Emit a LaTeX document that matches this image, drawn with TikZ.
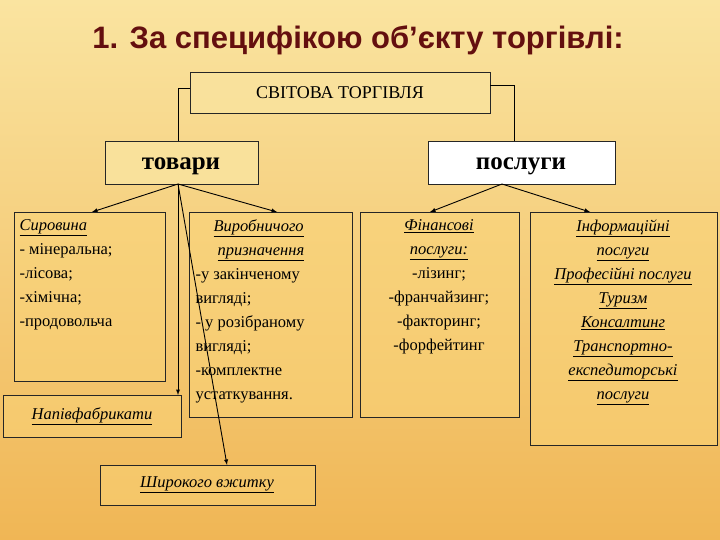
\documentclass[tikz,border=0pt]{standalone}
\usepackage{fontspec}
\setmainfont{Liberation Serif}
\newfontfamily\titlefont{Liberation Sans}
\definecolor{bgtop}{RGB}{250,228,160}
\definecolor{bgbot}{RGB}{240,182,85}
\definecolor{boxfill}{RGB}{250,212,120}
\definecolor{ttl}{RGB}{100,15,15}
\newcommand{\ul}[1]{\underline{\textit{#1}}}
\tikzset{
  bx/.style={draw=black!85, line width=0.6pt, fill=boxfill, fill opacity=0.5, text opacity=1},
  arr/.style={-latex, line width=0.9pt},
  ln/.style={line width=0.6pt},
  txt/.style={font=\fontsize{16.5}{24}\selectfont, align=#1},
}
\begin{document}
\begin{tikzpicture}[x=1pt,y=-1pt]
\shade[top color=bgtop, bottom color=bgbot] (0,0) rectangle (720,540);
\useasboundingbox (0,0) rectangle (720,540);
\node[font=\titlefont\bfseries\fontsize{31}{34}\selectfont, text=ttl] (title) at (358,40) {1. За специфікою об’єкту торгівлі:};
% boxes
\draw[bx, fill=bgtop, fill opacity=0.7] (190,72) rectangle (490,113);
\node (st) at (340,93) {\fontsize{18}{20}\selectfont СВІТОВА ТОРГІВЛЯ};
\draw[bx, fill=bgtop, fill opacity=0.8] (105,141) rectangle (258,184);
\node (tov) at (181,166) {\fontsize{25}{28}\selectfont\bfseries товари};
\draw[bx, fill=white, fill opacity=1] (428,141) rectangle (615,184);
\node (pos) at (521,166) {\fontsize{25}{28}\selectfont\bfseries послуги};
\draw[bx] (14,212) rectangle (165,381);
\node[txt=left, anchor=north west] (syr) at (16,216) {\ul{Сировина}\\- мінеральна;\\-лісова;\\-хімічна;\\-продовольча};
\draw[bx] (3,395) rectangle (181,437);
\node[txt=left] (nap) at (92,416) {\ul{Напівфабрикати}};
\draw[bx] (189,212) rectangle (352,417);
\node[txt=left, anchor=north west] (vyr) at (192,216) {\hspace*{18pt}\ul{Виробничого}\\\hspace*{22pt}\ul{призначення}\\-у закінченому\\вигляді;\\- у розібраному\\вигляді;\\-комплектне\\устаткування.};
\draw[bx] (100,465) rectangle (315,505);
\node[txt=left] (shyr) at (207,485) {\ul{Широкого вжитку}};
\draw[bx] (360,212) rectangle (519,417);
\node[txt=center, anchor=north] (fin) at (439,216) {\ul{Фінансові}\\\ul{послуги:}\\-лізинг;\\-франчайзинг;\\-факторинг;\\-форфейтинг};
\draw[bx] (530,212) rectangle (717,445);
\node[txt=center, anchor=north] (inf) at (623,216) {\ul{Інформаційні}\\\ul{послуги}\\\ul{Професійні послуги}\\\ul{Туризм}\\\ul{Консалтинг}\\\ul{Транспортно-}\\\ul{експедиторські}\\\ul{послуги}};
% connectors
\coordinate (tb) at (178,184);
\coordinate (pb) at (502,184);
\draw[ln] (190,88) -| (178,141);
\draw[ln] (490,85) -| (514,141);
\draw[arr] (tb) -- (92,212);
\draw[arr] (tb) -- (277,212);
\draw[arr] (tb) -- (178,395);
\draw[arr] (tb) -- (227,465);
\draw[arr] (pb) -- (430,212);
\draw[arr] (pb) -- (590,212);
\end{tikzpicture}
\end{document}
